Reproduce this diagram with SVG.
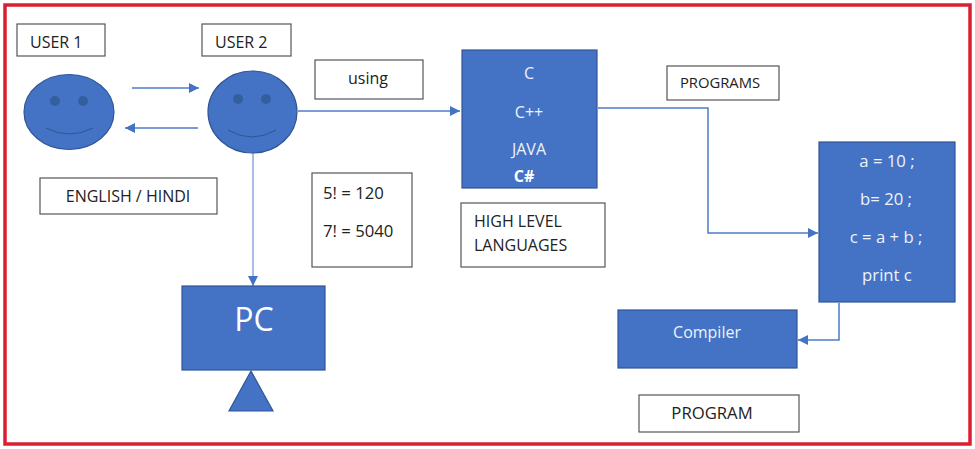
<svg xmlns="http://www.w3.org/2000/svg" width="975" height="449" viewBox="0 0 975 449">
<defs>
<marker id="ah" markerUnits="userSpaceOnUse" markerWidth="11" markerHeight="10" refX="10" refY="5" orient="auto"><path d="M0 0L10 5L0 10Z" fill="#4472c4"/></marker>
</defs>
<style>
text{font-family:"Open Sans","Noto Sans","Liberation Sans",sans-serif;font-size:16px}
.box{fill:#fff;stroke:#555;stroke-width:1.2}
.blue{fill:#4472c4;stroke:#2f5597;stroke-width:1.2}
.t{fill:#222}
.w{fill:#eef3fb;text-anchor:middle}
.big{font-size:16.700px}
.c{fill:none;stroke:#4f7cc9;stroke-width:1.5}
.face{fill:none;stroke:#2f5597;stroke-width:1}
.eye{fill:#345f9f}
</style>
<rect x="5" y="5" width="965" height="439" fill="#fff" stroke="#dc1f30" stroke-width="3.5"/>
<g id="connectors">
<path class="c" d="M132 88H199" marker-end="url(#ah)"/>
<path class="c" d="M198 128H125" marker-end="url(#ah)"/>
<path class="c" d="M298 111H460" marker-end="url(#ah)"/>
<path class="c" style="stroke:#8aaae0" d="M253 153V286" marker-end="url(#ah)"/>
<path class="c" d="M598 108H708V233H818" marker-end="url(#ah)"/>
<path class="c" d="M839 303V340H798" marker-end="url(#ah)"/>
</g>
<g id="user1-label"><rect class="box" x="17" y="24" width="88" height="32"/><text class="t" x="30" y="48">USER 1</text></g>
<g id="user2-label"><rect class="box" x="202" y="24" width="89" height="32"/><text class="t" x="215" y="48">USER 2</text></g>
<g id="user1">
<ellipse class="blue" cx="69" cy="112" rx="45" ry="37.500"/>
<circle class="eye" cx="55" cy="101" r="5"/><circle class="eye" cx="83" cy="101" r="5"/>
<path class="face" d="M46 128Q69 140 93 128"/>
</g>
<g id="user2">
<ellipse class="blue" cx="252.500" cy="112" rx="44.500" ry="41"/>
<circle class="eye" cx="238" cy="99" r="5"/><circle class="eye" cx="266" cy="99" r="5"/>
<path class="face" d="M228 130Q252 144 276 130"/>
</g>
<g id="language-label"><rect class="box" x="40" y="178" width="177" height="36"/><text class="t" x="128" y="202" text-anchor="middle">ENGLISH / HINDI</text></g>
<g id="using-label"><rect class="box" x="315" y="60" width="108" height="39"/><text class="t" x="368" y="84" text-anchor="middle">using</text></g>
<g id="factorials"><rect class="box" x="312" y="173" width="100" height="94"/><text class="t big" x="323" y="199">5! = 120</text><text class="t big" x="323" y="237">7! = 5040</text></g>
<g id="languages">
<rect class="blue" x="462" y="50" width="135" height="138"/>
<text class="w" x="529" y="79">C</text><text class="w" x="529" y="118">C++</text><text class="w" x="529" y="155">JAVA</text>
<text class="w" x="524" y="182" font-weight="700" style="fill:#fff">C#</text>
</g>
<g id="high-level-label"><rect class="box" x="461" y="203" width="144" height="64"/><text class="t" x="474" y="227">HIGH LEVEL</text><text class="t" x="474" y="251">LANGUAGES</text></g>
<g id="programs-label"><rect class="box" x="667" y="66" width="112" height="34"/><text class="t" x="720" y="88" text-anchor="middle" style="font-size:14.800px">PROGRAMS</text></g>
<g id="program-code">
<rect class="blue" x="819" y="142" width="136" height="160"/>
<text class="w big" x="887" y="167">a = 10 ;</text><text class="w big" x="886" y="205">b= 20 ;</text><text class="w big" x="886" y="243">c = a + b ;</text><text class="w big" x="887" y="281">print c</text>
</g>
<g id="compiler"><rect class="blue" x="618" y="310" width="179" height="58"/><text class="w" x="707" y="338">Compiler</text></g>
<g id="program-label"><rect class="box" x="639" y="395" width="160" height="37"/><text class="t big" x="712" y="419" text-anchor="middle">PROGRAM</text></g>
<g id="pc"><rect class="blue" x="182" y="286" width="143" height="84"/><text x="254" y="331" text-anchor="middle" fill="#fff" style="font-size:32px">PC</text></g>
<g id="pc-stand"><polygon class="blue" points="251,371 273,411 229,411"/></g>
</svg>
